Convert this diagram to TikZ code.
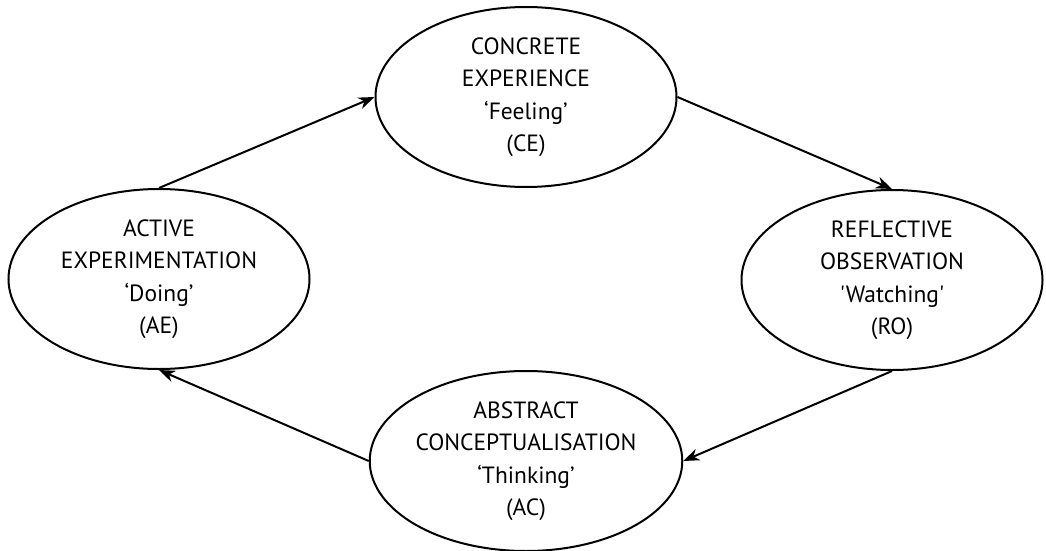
\documentclass[tikz,border=0pt]{standalone}
\usepackage{fontspec}
\setmainfont{PT Sans}[Ligatures=TeXOff]
\usetikzlibrary{shapes.geometric,arrows.meta}
\begin{document}
\begin{tikzpicture}[x=1pt,y=-1pt,
  stage/.style={draw, line width=2pt, ellipse, inner sep=0pt,
    minimum width=301pt, minimum height=180pt, align=center,
    font=\fontsize{23.5}{32.5}\selectfont},
  flow/.style={line width=2pt, -{Stealth[length=16pt,width=12pt,inset=5pt]}}]
\useasboundingbox (0,0) rectangle (1046,551);
\node[stage] (CE) at (526,97) {CONCRETE\\EXPERIENCE\\‘Feeling’\\(CE)};
\node[stage] (RO) at (892,280) {REFLECTIVE\\OBSERVATION\\'Watching'\\(RO)};
\node[stage] (AC) at (526,461) {ABSTRACT\\CONCEPTUALISATION\\‘Thinking’\\(AC)};
\node[stage] (AE) at (159,279) {ACTIVE\\EXPERIMENTATION\\‘Doing’\\(AE)};
\draw[flow] (AE.north) -- (CE.west);
\draw[flow] (CE.east) -- (RO.north);
\draw[flow] (RO.south) -- (AC.east);
\draw[flow] (AC.west) -- (AE.south);
\end{tikzpicture}
\end{document}
